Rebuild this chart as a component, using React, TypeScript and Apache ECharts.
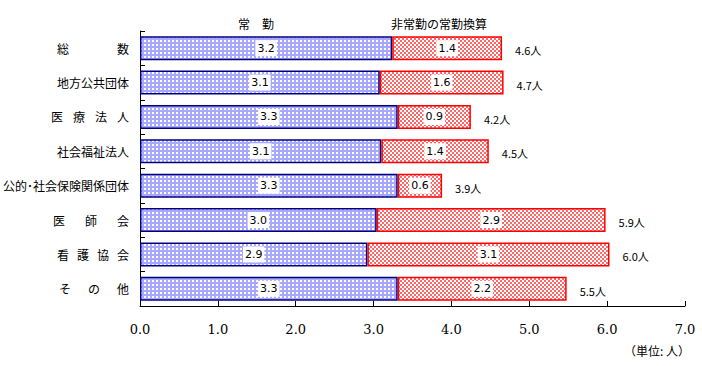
import React, { useEffect, useRef } from "react";
import * as echarts from "echarts";

const categories = [
  "総　　　　数",
  "地方公共団体",
  "医\u2002\u2004療\u2002\u2004法\u2002\u2004人",
  "社会福祉法人",
  "公的･社会保険関係団体",
  "医　\u2002\u2006師　\u2002\u2006会",
  "看\u2002\u2006護\u2002\u2006協\u2002\u2006会",
  "そ　\u2005\u2006の　\u2005\u2006他",
];
const regularValues = [3.24, 3.08, 3.31, 3.1, 3.31, 3.04, 2.92, 3.31];
const partTimeValues = [1.41, 1.59, 0.94, 1.38, 0.57, 2.94, 3.11, 2.17];
const regularLabels = ["3.2", "3.1", "3.3", "3.1", "3.3", "3.0", "2.9", "3.3"];
const partTimeLabels = ["1.4", "1.6", "0.9", "1.4", "0.6", "2.9", "3.1", "2.2"];
const totalLabels = ["4.6", "4.7", "4.2", "4.5", "3.9", "5.9", "6.0", "5.5"];
const xTicks = [0, 1, 2, 3, 4, 5, 6, 7];
const seriesNames = ["常　勤", "非常勤の常勤換算"];
const unitText = "（単位: 人）";

const blueTile =
  "data:image/svg+xml;charset=utf-8," +
  encodeURIComponent(
    "<svg xmlns='http://www.w3.org/2000/svg' width='4' height='4' shape-rendering='crispEdges'>" +
      "<rect width='4' height='4' fill='#a8a8ff'/><rect width='2' height='2' fill='#ffffff'/></svg>"
  );
const redTile =
  "data:image/svg+xml;charset=utf-8," +
  encodeURIComponent(
    "<svg xmlns='http://www.w3.org/2000/svg' width='4' height='4' shape-rendering='crispEdges'>" +
      "<rect width='4' height='4' fill='#ffffff'/><rect width='2' height='2' fill='#ff6666'/>" +
      "<rect x='2' y='2' width='2' height='2' fill='#ff6666'/></svg>"
  );

export default function App() {
  const ref = useRef<HTMLDivElement>(null);
  useEffect(() => {
    if (!ref.current) return;
    const chart = echarts.init(ref.current, null, { renderer: "svg" });
    const labelBox = {
      show: true,
      position: "inside",
      color: "#000",
      fontSize: 11,
      fontFamily: "DejaVu Sans",
      backgroundColor: "#ffffff",
      padding: [3, 2, 2, 2],
    };
    chart.setOption({
      animation: false,
      backgroundColor: "#ffffff",
      grid: { left: 139, right: 17, top: 31, bottom: 60 },
      xAxis: {
        type: "value",
        min: 0,
        max: 7,
        interval: 1,
        axisLine: { show: true, lineStyle: { color: "#000", width: 1 } },
        axisTick: { show: true, inside: true, length: 5, lineStyle: { color: "#000" } },
        splitLine: { show: false },
        axisLabel: {
          margin: 17,
          color: "#000",
          fontSize: 13,
          fontFamily: "DejaVu Serif",
          formatter: (v: number) => (xTicks.includes(v) ? v.toFixed(1) : ""),
        },
      },
      yAxis: {
        type: "category",
        inverse: true,
        data: categories,
        axisLine: { show: true, lineStyle: { color: "#000", width: 1 } },
        axisTick: { show: true, inside: true, length: 5, lineStyle: { color: "#000" } },
        axisLabel: {
          margin: 11,
          color: "#000",
          fontSize: 12,
          fontFamily: "Noto Sans CJK JP",
        },
      },
      series: [
        {
          name: seriesNames[0],
          type: "bar",
          stack: "a",
          barWidth: 24,
          data: regularValues,
          itemStyle: {
            color: { image: blueTile, repeat: "repeat", imageWidth: 4, imageHeight: 4 },
            borderColor: "#000080",
            borderWidth: 1.5,
          },
          label: { ...labelBox, formatter: (p: any) => regularLabels[p.dataIndex] },
        },
        {
          name: seriesNames[1],
          type: "bar",
          stack: "a",
          barWidth: 24,
          data: partTimeValues,
          itemStyle: {
            color: { image: redTile, repeat: "repeat", imageWidth: 4, imageHeight: 4 },
            borderColor: "#ff0000",
            borderWidth: 1.5,
          },
          label: { ...labelBox, formatter: (p: any) => partTimeLabels[p.dataIndex] },
        },
        {
          type: "scatter",
          symbolSize: 0,
          silent: true,
          itemStyle: { opacity: 1 },
          data: regularValues.map((v, i) => [v + partTimeValues[i], i]),
          label: {
            show: true,
            position: "right",
            distance: 13,
            offset: [0, 2],
            color: "#000",
            opacity: 1,
            fontSize: 11,
            fontFamily: "Noto Sans CJK JP",
            formatter: (p: any) => totalLabels[p.dataIndex] + "人",
          },
        },
      ],
      graphic: [
        {
          type: "text",
          x: 256,
          y: 23,
          style: {
            text: seriesNames[0],
            fill: "#000",
            font: "12px 'Noto Sans CJK JP'",
            align: "center",
            verticalAlign: "middle",
          },
        },
        {
          type: "text",
          x: 439,
          y: 23,
          style: {
            text: seriesNames[1],
            fill: "#000",
            font: "12px 'Noto Sans CJK JP'",
            align: "center",
            verticalAlign: "middle",
          },
        },
        {
          type: "text",
          x: 690,
          y: 350,
          style: {
            text: unitText,
            fill: "#000",
            font: "12px 'Noto Sans CJK JP'",
            align: "right",
            verticalAlign: "middle",
          },
        },
      ],
    });
    return () => chart.dispose();
  }, []);
  return (
    <div
      ref={ref}
      style={{ position: "fixed", left: 0, top: 0, width: 702, height: 366 }}
    />
  );
}
